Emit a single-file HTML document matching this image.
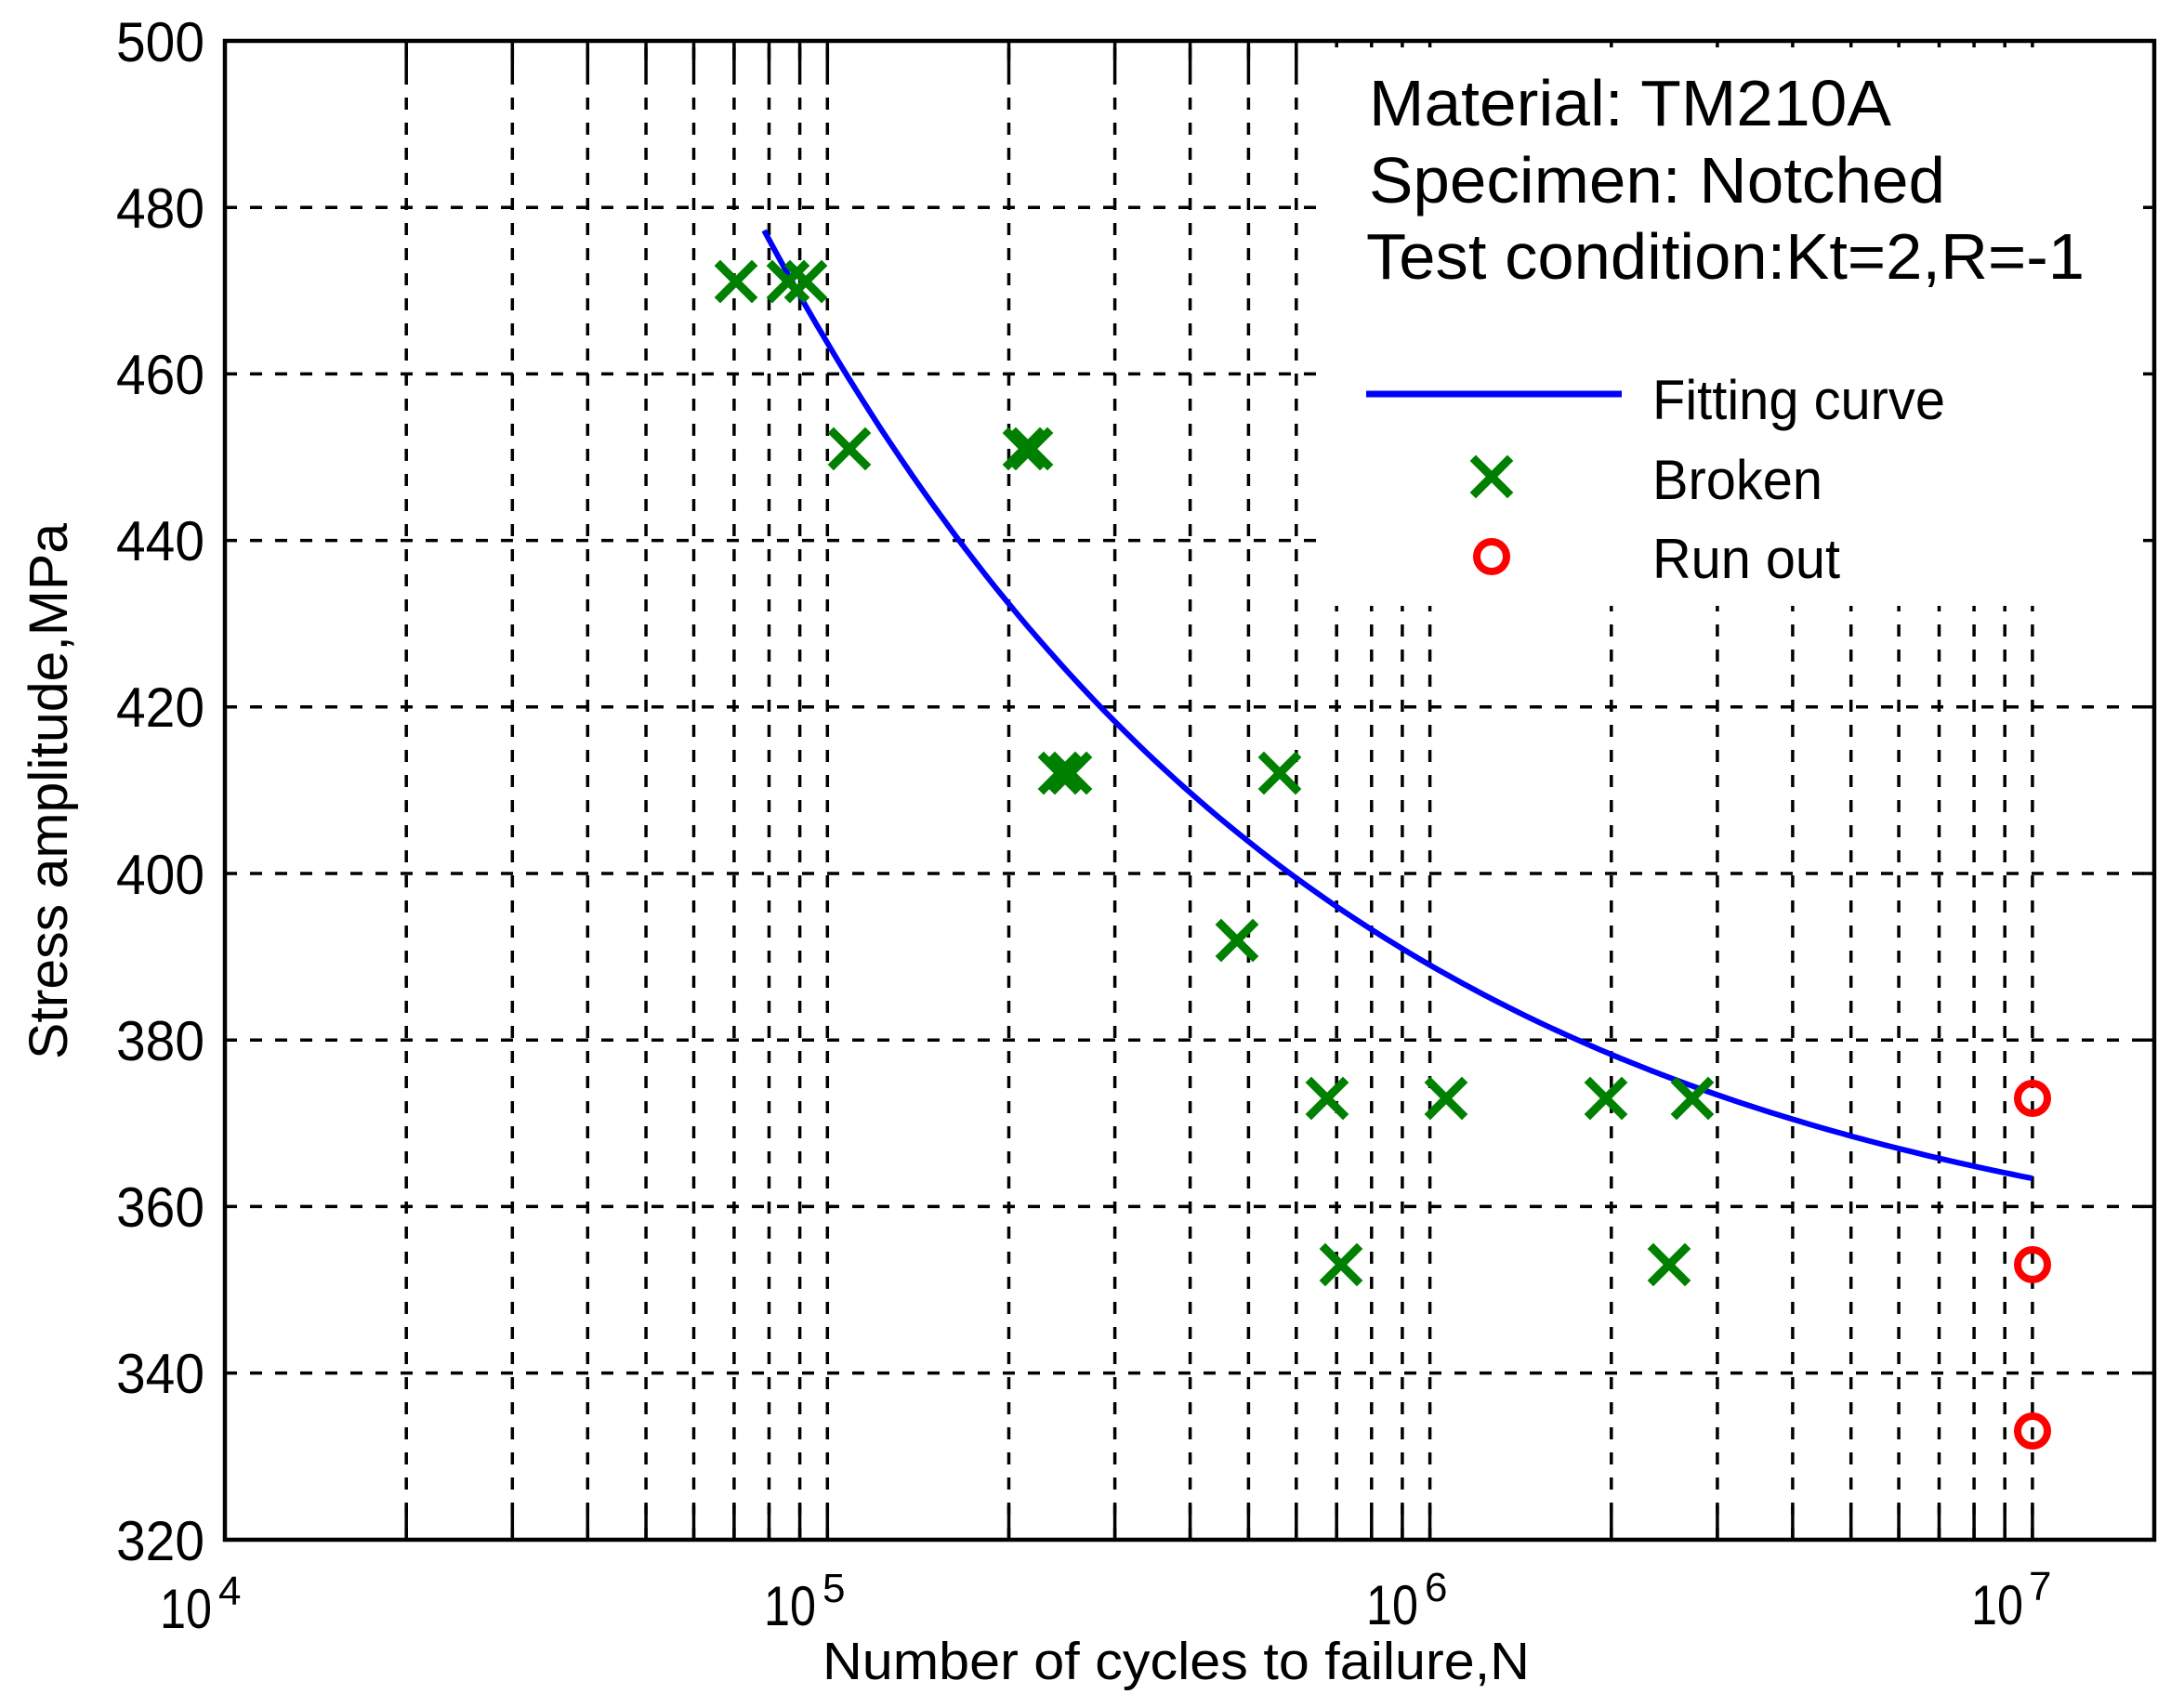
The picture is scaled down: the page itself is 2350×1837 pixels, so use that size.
<!DOCTYPE html>
<html><head><meta charset="utf-8"><style>
html,body{margin:0;padding:0;background:#fff;}
svg{display:block;}
text{font-family:"Liberation Sans",Arial,sans-serif;fill:#000;}
</style></head><body>
<svg width="2350" height="1837" viewBox="0 0 2350 1837" xmlns="http://www.w3.org/2000/svg">
<rect width="2350" height="1837" fill="#fff"/>
<g stroke="#000" stroke-width="3.5" stroke-dasharray="13 14" fill="none">
<path d="M437.2 1657V44M551.3 1657V44M632.3 1657V44M695.1 1657V44M746.5 1657V44M789.9 1657V44M827.5 1657V44M860.6 1657V44M890.3 1657V44
M1085.5 1657V44M1199.6 1657V44M1280.6 1657V44M1343.4 1657V44M1394.8 1657V44M1438.2 1657V44M1475.8 1657V44M1508.9 1657V44M1538.6 1657V44
M1733.8 1657V44M1847.9 1657V44M1928.9 1657V44M1991.7 1657V44M2043.1 1657V44M2086.5 1657V44M2124.1 1657V44M2157.2 1657V44M2186.9 1657V44"/>
<path d="M242 223.2H2318M242 402.4H2318M242 581.6H2318M242 760.8H2318M242 940H2318M242 1119.2H2318M242 1298.4H2318M242 1477.6H2318"/>
</g>
<rect x="1420" y="46" width="896" height="606" fill="#fff"/>
<g stroke="#000" stroke-width="3.5">
<path d="M437.2 1657v-37M551.3 1657v-37M632.3 1657v-37M695.1 1657v-37M746.5 1657v-37M789.9 1657v-37M827.5 1657v-37M860.6 1657v-37M890.3 1657v-37
M1085.5 1657v-37M1199.6 1657v-37M1280.6 1657v-37M1343.4 1657v-37M1394.8 1657v-37M1438.2 1657v-37M1475.8 1657v-37M1508.9 1657v-37M1538.6 1657v-37
M1733.8 1657v-37M1847.9 1657v-37M1928.9 1657v-37M1991.7 1657v-37M2043.1 1657v-37M2086.5 1657v-37M2124.1 1657v-37M2157.2 1657v-37M2186.9 1657v-37"/>
<path d="M437.2 44v34M551.3 44v34M632.3 44v34M695.1 44v34M746.5 44v34M789.9 44v34M827.5 44v34M860.6 44v34M890.3 44v34
M1085.5 44v34M1199.6 44v34M1280.6 44v34M1343.4 44v34M1394.8 44v34M1438.2 44v7M1475.8 44v7M1508.9 44v7M1538.6 44v7
M1733.8 44v7M1847.9 44v7M1928.9 44v7M1991.7 44v7M2043.1 44v7M2086.5 44v7M2124.1 44v7M2157.2 44v7M2186.9 44v7"/>
<path d="M2318 223.2h-12M2318 402.4h-12M2318 581.6h-12M2318 760.8h-12M2318 940h-12M2318 1119.2h-12M2318 1298.4h-12M2318 1477.6h-12"/>
</g>
<rect x="242" y="44" width="2076" height="1613" fill="none" stroke="#000" stroke-width="4.5"/>
<g font-size="60" text-anchor="end">
<text x="220" y="66" textLength="95" lengthAdjust="spacingAndGlyphs">500</text>
<text x="220" y="245" textLength="95" lengthAdjust="spacingAndGlyphs">480</text>
<text x="220" y="424" textLength="95" lengthAdjust="spacingAndGlyphs">460</text>
<text x="220" y="603" textLength="95" lengthAdjust="spacingAndGlyphs">440</text>
<text x="220" y="782" textLength="95" lengthAdjust="spacingAndGlyphs">420</text>
<text x="220" y="962" textLength="95" lengthAdjust="spacingAndGlyphs">400</text>
<text x="220" y="1141" textLength="95" lengthAdjust="spacingAndGlyphs">380</text>
<text x="220" y="1320" textLength="95" lengthAdjust="spacingAndGlyphs">360</text>
<text x="220" y="1499" textLength="95" lengthAdjust="spacingAndGlyphs">340</text>
<text x="220" y="1679" textLength="95" lengthAdjust="spacingAndGlyphs">320</text>
</g>
<g font-size="60">
<text x="172" y="1752" textLength="56" lengthAdjust="spacingAndGlyphs">10</text><text x="235" y="1727" font-size="44">4</text>
<text x="822" y="1749" textLength="56" lengthAdjust="spacingAndGlyphs">10</text><text x="885" y="1724" font-size="44">5</text>
<text x="1470" y="1748" textLength="56" lengthAdjust="spacingAndGlyphs">10</text><text x="1533" y="1723" font-size="44">6</text>
<text x="2121" y="1748" textLength="56" lengthAdjust="spacingAndGlyphs">10</text><text x="2183" y="1722" font-size="44">7</text>
</g>
<text x="885" y="1807" font-size="57" textLength="761" lengthAdjust="spacingAndGlyphs">Number of cycles to failure,N</text>
<text transform="translate(72,1140) rotate(-90)" font-size="58" textLength="577" lengthAdjust="spacingAndGlyphs">Stress amplitude,MPa</text>
<g font-size="70">
<text x="1473" y="135" textLength="562" lengthAdjust="spacingAndGlyphs">Material: TM210A</text>
<text x="1473" y="218" textLength="620" lengthAdjust="spacingAndGlyphs">Specimen: Notched</text>
<text x="1470" y="300" textLength="773" lengthAdjust="spacingAndGlyphs">Test condition:Kt=2,R=-1</text>
</g>
<g font-size="60">
<text x="1778" y="451" textLength="315" lengthAdjust="spacingAndGlyphs">Fitting curve</text>
<text x="1778" y="537" textLength="183" lengthAdjust="spacingAndGlyphs">Broken</text>
<text x="1778" y="622" textLength="202" lengthAdjust="spacingAndGlyphs">Run out</text>
</g>
<line x1="1470" y1="424" x2="1745" y2="424" stroke="#0000ff" stroke-width="7"/>
<polyline id="curve" fill="none" stroke="#0000ff" stroke-width="6" stroke-linejoin="round" points="822.2,248.3 857.9,313.7 890.3,369.2 955.1,472.3 1052.4,608.5 1149.6,724.1 1279.3,852.2 1409,955.2 1538.6,1038.6 1700.7,1120.5 1862.8,1183.4 2024.9,1231.4 2186.9,1268.1"/>
<g stroke="#008000" stroke-width="9" stroke-linecap="square" fill="none">
<path d="M775 286l34 34M809 286l-34 34
M831 286l34 34M865 286l-34 34
M850 286l34 34M884 286l-34 34
M897 466l34 34M931 466l-34 34
M1085 466l34 34M1119 466l-34 34
M1093 466l34 34M1127 466l-34 34
M1123 815l34 34M1157 815l-34 34
M1135 815l34 34M1169 815l-34 34
M1360 815l34 34M1394 815l-34 34
M1314 995l34 34M1348 995l-34 34
M1411 1165l34 34M1445 1165l-34 34
M1539 1165l34 34M1573 1165l-34 34
M1711 1165l34 34M1745 1165l-34 34
M1804 1165l34 34M1838 1165l-34 34
M1426 1344l34 34M1460 1344l-34 34
M1779 1344l34 34M1813 1344l-34 34
M1588 496l34 34M1622 496l-34 34"/>
</g>
<g stroke="#ff0000" stroke-width="8" fill="none">
<circle cx="2187" cy="1182" r="16"/>
<circle cx="2187" cy="1361" r="16"/>
<circle cx="2187" cy="1540" r="16"/>
<circle cx="1605" cy="599" r="16"/>
</g>
</svg>
<script>
(function(){var p=[];for(var i=0;i<=120;i++){var L=4.895+(7-4.895)*i/120;var s=350+Math.exp(4.846-1.07*(L-4.895));var x=242+648.3*(L-4);var y=44+(500-s)*8.96;p.push(x.toFixed(1)+","+y.toFixed(1));}document.getElementById("curve").setAttribute("points",p.join(" "));})();
</script>
</body></html>
